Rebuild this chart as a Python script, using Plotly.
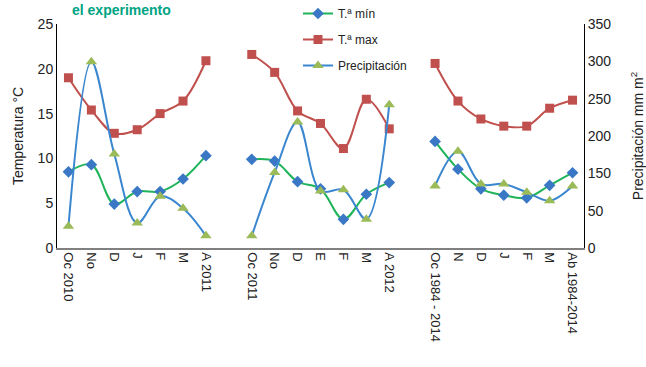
import plotly.graph_objects as go

# ---- data ----
x_labels = ["Oc 2010", "No", "D", "J", "F", "M", "A 2011", "",
            "Oc 2011", "No", "D", "E", "F", "M", "A 2012", "",
            "Oc 1984 - 2014", "N", "D", "J", "F", "M", "Ab 1984-2014"]

t_min = [8.5, 9.3, 4.9, 6.3, 6.3, 7.7, 10.3, None,
         9.9, 9.7, 7.4, 6.6, 3.2, 6.0, 7.3, None,
         11.9, 8.8, 6.6, 5.9, 5.6, 7.0, 8.4]

t_max = [19.0, 15.4, 12.8, 13.2, 15.0, 16.4, 20.9, None,
         21.6, 19.6, 15.3, 13.9, 11.1, 16.6, 13.3, None,
         20.6, 16.4, 14.4, 13.6, 13.6, 15.6, 16.5]

precip = [34, 291, 147, 39, 81, 62, 19, None,
          19, 118, 197, 89, 91, 45, 224, None,
          97, 151, 100, 100, 87, 74, 97]

precip_tick_labels = ["0", "50", "150", "200", "250", "300", "350"]
temp_ticks = [0, 5, 10, 15, 20, 25]

xs = list(range(len(x_labels)))
tick_pos = [i for i, l in enumerate(x_labels) if l]
tick_txt = [l for l in x_labels if l]

FONT = "Liberation Sans, Arial, sans-serif"

fig = go.Figure()
fig.add_trace(go.Scatter(
    x=xs, y=t_min, name="T.ª mín", mode="lines+markers",
    line=dict(color="#1fb35a", width=2, shape="spline"),
    marker=dict(symbol="diamond", size=9, color="#3a78c6"),
    legendgroup="a", connectgaps=False))
fig.add_trace(go.Scatter(
    x=xs, y=t_max, name="T.ª max", mode="lines+markers",
    line=dict(color="#c0504d", width=2, shape="spline"),
    marker=dict(symbol="square", size=9, color="#c0504d"),
    legendgroup="b", connectgaps=False))
fig.add_trace(go.Scatter(
    x=xs, y=precip, name="Precipitación", mode="lines+markers",
    line=dict(color="#3a86cf", width=2, shape="spline"),
    marker=dict(symbol="triangle-up", size=10, color="#9bbb59"),
    legendgroup="c", connectgaps=False, yaxis="y2"))

fig.update_layout(
    width=646, height=367,
    margin=dict(l=57, r=62, t=24, b=119, autoexpand=False),
    paper_bgcolor="white", plot_bgcolor="white",
    font=dict(family=FONT, color="#222", size=13),
    showlegend=True,
    legend=dict(x=(298 - 57) / 527, y=1 + (24 + 1) / 224, xanchor="left", yanchor="top",
                bgcolor="rgba(0,0,0,0)", font=dict(size=12, family=FONT),
                tracegroupgap=7, itemwidth=30),
    xaxis=dict(range=[-0.5, len(x_labels) - 0.5], tickmode="array",
               tickvals=tick_pos, ticktext=tick_txt, tickangle=90,
               showline=True, linecolor="#808080", linewidth=1.5,
               showgrid=False, zeroline=False, ticks="", automargin=False,
               tickfont=dict(size=13, family=FONT, color="#222")),
    yaxis=dict(range=[0, 25], tickvals=temp_ticks, showgrid=False,
               zeroline=False, showline=True, linecolor="#000", linewidth=1,
               ticks="", automargin=False,
               tickfont=dict(size=14, family=FONT, color="#222"),
               title=dict(text="Temperatura °C", font=dict(size=14, family=FONT, color="#222"),
                          standoff=10)),
    yaxis2=dict(range=[0, 350], overlaying="y", side="right",
                tickmode="array",
                tickvals=[350 * i / 6 for i in range(7)],
                ticktext=precip_tick_labels,
                showgrid=False, zeroline=False, showline=True,
                linecolor="#000", linewidth=1, ticks="", automargin=False,
                tickfont=dict(size=14, family=FONT, color="#222"),
                title=dict(text="Precipitación mm m<sup>2</sup>",
                           font=dict(size=14, family=FONT, color="#222"),
                           standoff=22)),
)

fig.add_annotation(text="el experimento", xref="paper", yref="paper",
                   x=(172 - 57) / 527, y=1 + (24 - 19) / 224,
                   xanchor="right", yanchor="bottom", showarrow=False,
                   borderpad=0,
                   font=dict(size=14, family=FONT, color="#00a383", weight="bold"))

fig.write_html("out.html", config={"displayModeBar": False},
               post_script="document.body.style.margin='0px';")
